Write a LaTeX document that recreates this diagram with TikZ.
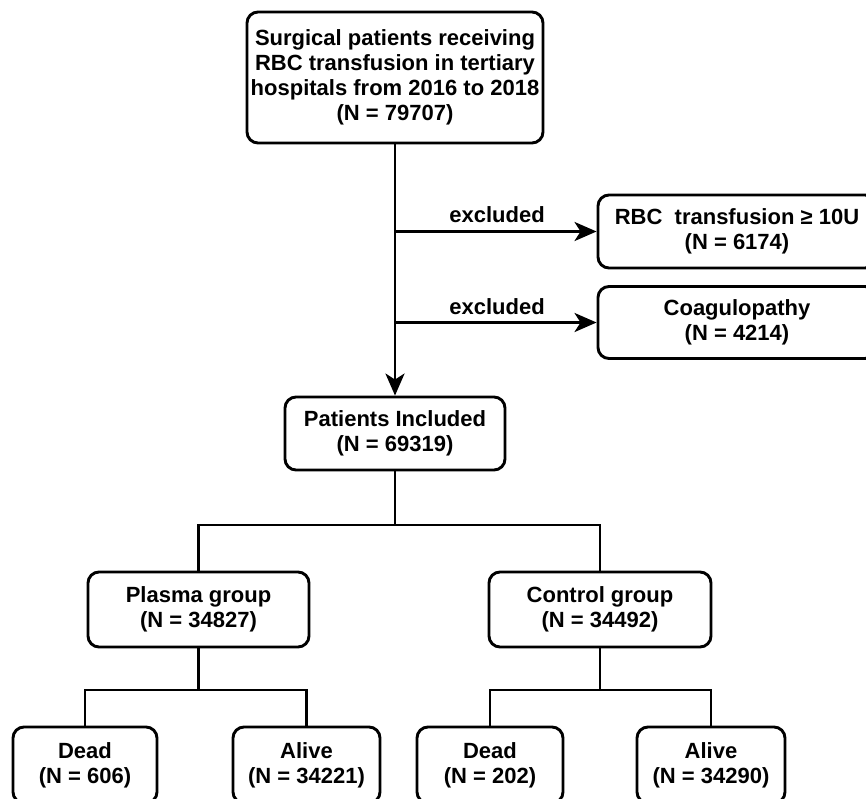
\documentclass[tikz,border=0pt]{standalone}
\usepackage{fontspec}
\setmainfont{Liberation Sans}
\usetikzlibrary{arrows.meta}
\begin{document}
\begin{tikzpicture}[x=1pt,y=-1pt,
  txt/.style={font=\bfseries\fontsize{22}{25}\selectfont},
  box/.style={txt, draw, line width=2.9pt, rounded corners=11pt, align=center, inner sep=0pt},
  conn/.style={line width=2.9pt},
  arr/.style={conn, -{Stealth[length=22pt,width=19pt,inset=6pt]}}]
\useasboundingbox (0,0) rectangle (866,798);
\clip (0,0) rectangle (866,798);

\node[box, minimum width=296pt, minimum height=131pt] (top) at (395,77.5)
  {Surgical patients receiving\\RBC transfusion in tertiary\\hospitals from 2016 to 2018\\(N = 79707)\hspace{12pt}};
\node[box, minimum width=278pt, minimum height=73pt] (rbc) at (737,231.5)
  {RBC\ \ transfusion ≥ 10U\\(N = 6174)};
\node[box, minimum width=278pt, minimum height=72pt] (coag) at (737,322.5)
  {Coagulopathy\\(N = 4214)};
\node[box, minimum width=220pt, minimum height=73pt] (pat) at (395,433.5)
  {Patients Included\\(N = 69319)};
\node[box, minimum width=221pt, minimum height=75pt] (plasma) at (198.5,609.5)
  {Plasma group\\(N = 34827)};
\node[box, minimum width=222pt, minimum height=75pt] (control) at (600,609.5)
  {Control group\\(N = 34492)};
\node[box, minimum width=144pt, minimum height=76pt] (dead1) at (85,765)
  {Dead\\(N = 606)};
\node[box, minimum width=147pt, minimum height=76pt] (alive1) at (306.5,765)
  {Alive\\(N = 34221)};
\node[box, minimum width=146pt, minimum height=76pt] (dead2) at (490,765)
  {Dead\\(N = 202)};
\node[box, minimum width=148pt, minimum height=76pt] (alive2) at (711,765)
  {Alive\\(N = 34290)};

% main vertical arrow
\draw[arr] (top.south) -- (pat.north);
% exclusions
\coordinate (e1) at (395,231.5);
\coordinate (e2) at (395,322.5);
\draw[arr] (e1) -- (rbc.west);
\draw[arr] (e2) -- (coag.west);
\node[txt] (x1) at (497,215) {excluded};
\node[txt] (x2) at (497,307) {excluded};

% tree
\coordinate (j1) at (395,525);
\draw[conn] (pat.south) -- (j1);
\draw[conn] (plasma.north) |- (j1) -| (control.north);
\coordinate (j2) at (198.5,690);
\coordinate (j3) at (600,690);
\draw[conn] (plasma.south) -- (j2);
\draw[conn] (control.south) -- (j3);
\draw[conn] (dead1.north) |- (j2) -| (alive1.north);
\draw[conn] (dead2.north) |- (j3) -| (alive2.north);
\end{tikzpicture}
\end{document}
